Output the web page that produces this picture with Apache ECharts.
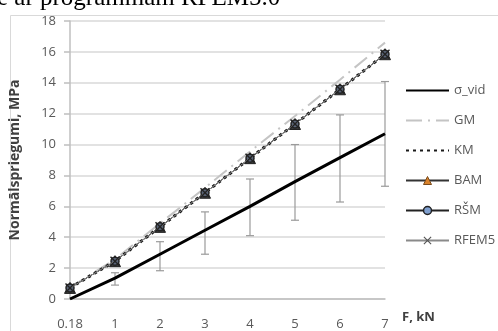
<!DOCTYPE html>
<html>
<head>
<meta charset="utf-8">
<script src="https://cdn.jsdelivr.net/npm/echarts@6/dist/echarts.min.js"></script>
<style>
html,body{margin:0;padding:0;background:#fff;}
#chart{width:498px;height:331px;}
</style>
</head>
<body>
<div id="chart"></div>
<script>
const categories = ['0.18','1','2','3','4','5','6','7'];
const sigmaVid = [0, 1.35, 2.9, 4.45, 6.0, 7.6, 9.15, 10.7];
const errLow  = [null, 0.9, 1.83, 2.9, 4.1, 5.1, 6.28, 7.3];
const errHigh = [null, 1.7, 3.71, 5.64, 7.77, 10.0, 11.92, 14.08];
const gm    = [0.74, 2.57, 4.9, 7.2, 9.55, 11.85, 14.2, 16.6];
const km    = [0.72, 2.45, 4.67, 6.88, 9.12, 11.33, 13.58, 15.85];
const bam   = [0.72, 2.45, 4.67, 6.88, 9.12, 11.33, 13.58, 15.85];
const rsm   = [0.72, 2.45, 4.67, 6.88, 9.12, 11.33, 13.58, 15.85];
const rfem5 = [0.72, 2.45, 4.67, 6.88, 9.12, 11.33, 13.58, 15.85];
const yTicks = {min: 0, max: 18, interval: 2};

const errData = [];
for (let i = 0; i < categories.length; i++) {
  if (errLow[i] != null) errData.push([i, errLow[i], errHigh[i]]);
}

const xPath = 'path://M0,1 L1,0 L5,4 L9,0 L10,1 L6,5 L10,9 L9,10 L5,6 L1,10 L0,9 L4,5 Z';
const hidden = {color: 'rgba(0,0,0,0)', borderColor: 'rgba(0,0,0,0)', borderWidth: 0};

const chart = echarts.init(document.getElementById('chart'));
chart.setOption({
  animation: false,
  textStyle: {fontFamily: '"Open Sans", "Noto Sans", sans-serif'},
  grid: {left: 68, right: 113, top: 21, bottom: 30, containLabel: false},
  graphic: [
    {type: 'rect', left: 8, top: 13, silent: true,
     shape: {width: 500, height: 330},
     style: {fill: 'none', stroke: '#d9d9d9', lineWidth: 1}},
    {type: 'text', left: -3, top: -14, silent: true,
     style: {text: 'e ar programmām RFEM5.0', font: '25px "Liberation Serif", serif', fill: '#000'}},
    {type: 'text', left: 402, top: 311, silent: true,
     style: {text: 'F, kN', font: 'bold 13px "Open Sans", sans-serif', fill: '#404040'}}
  ],
  legend: {
    orient: 'vertical',
    left: 400, top: 79,
    itemWidth: 43, itemHeight: 10, itemGap: 17,
    textStyle: {fontSize: 13, color: '#595959'},
    data: [
      {name: 'σ_vid', itemStyle: hidden},
      {name: 'GM', itemStyle: hidden},
      {name: 'KM', itemStyle: hidden},
      {name: 'BAM', itemStyle: {color: '#d9822b', borderColor: '#7a4a1a', borderWidth: 1}},
      {name: 'RŠM', itemStyle: {color: '#7f9fcf', borderColor: '#222', borderWidth: 1.5}},
      {name: 'RFEM5', itemStyle: {color: '#555'}}
    ]
  },
  xAxis: {
    type: 'category',
    data: categories,
    boundaryGap: false,
    axisLine: {lineStyle: {color: '#bfbfbf', width: 1.5}},
    axisTick: {show: false},
    axisLabel: {color: '#595959', fontSize: 13, margin: 19},
    splitLine: {show: false}
  },
  yAxis: {
    type: 'value',
    min: yTicks.min, max: yTicks.max, interval: yTicks.interval,
    name: 'Normālspriegumi, MPa',
    nameLocation: 'middle', nameRotate: 90, nameGap: 48,
    nameTextStyle: {fontWeight: 'bold', fontSize: 14, color: '#404040'},
    axisLine: {show: true, lineStyle: {color: '#bfbfbf', width: 1.5}},
    axisTick: {show: true, length: 6, lineStyle: {color: '#bfbfbf', width: 1.5}},
    axisLabel: {color: '#595959', fontSize: 13, margin: 14},
    splitLine: {lineStyle: {color: '#d9d9d9', width: 1.5}}
  },
  series: [
    {
      name: 'errors', type: 'custom', silent: true, z: 1,
      encode: {x: 0, y: [1, 2]},
      data: errData,
      renderItem: function (params, api) {
        const x = api.value(0);
        const lo = api.coord([x, api.value(1)]);
        const hi = api.coord([x, api.value(2)]);
        const w = 4;
        const st = {stroke: '#9a9a9a', lineWidth: 1.2};
        return {type: 'group', children: [
          {type: 'line', shape: {x1: lo[0], y1: lo[1], x2: hi[0], y2: hi[1]}, style: st},
          {type: 'line', shape: {x1: lo[0]-w, y1: lo[1], x2: lo[0]+w, y2: lo[1]}, style: st},
          {type: 'line', shape: {x1: hi[0]-w, y1: hi[1], x2: hi[0]+w, y2: hi[1]}, style: st}
        ]};
      }
    },
    {
      name: 'σ_vid', type: 'line', data: sigmaVid, symbol: 'none', z: 3,
      lineStyle: {color: '#000', width: 3}, itemStyle: {color: '#000'}
    },
    {
      name: 'GM', type: 'line', data: gm, symbol: 'none', z: 2,
      lineStyle: {color: '#c4c4c4', width: 2, type: [16, 6, 2, 6]}, itemStyle: {color: '#c4c4c4'}
    },
    {
      name: 'KM', type: 'line', data: km, symbol: 'none', z: 4,
      lineStyle: {color: '#1a1a1a', width: 3, type: [3, 4]}, itemStyle: {color: '#1a1a1a'}
    },
    {
      name: 'BAM', type: 'line', data: bam, symbol: 'triangle', symbolSize: 11, z: 5,
      lineStyle: {color: '#333', width: 1}, itemStyle: {color: '#3a3a3a', borderColor: '#222', borderWidth: 1}
    },
    {
      name: 'RŠM', type: 'line', data: rsm, symbol: 'circle', symbolSize: 8, z: 6,
      lineStyle: {color: '#222', width: 1}, itemStyle: {color: '#5a6578', borderColor: '#222', borderWidth: 1.5}
    },
    {
      name: 'RFEM5', type: 'line', data: rfem5, symbol: xPath, symbolSize: 10, z: 7,
      lineStyle: {color: '#8a8a8a', width: 1}, itemStyle: {color: '#222'}
    }
  ]
});
</script>
</body>
</html>
